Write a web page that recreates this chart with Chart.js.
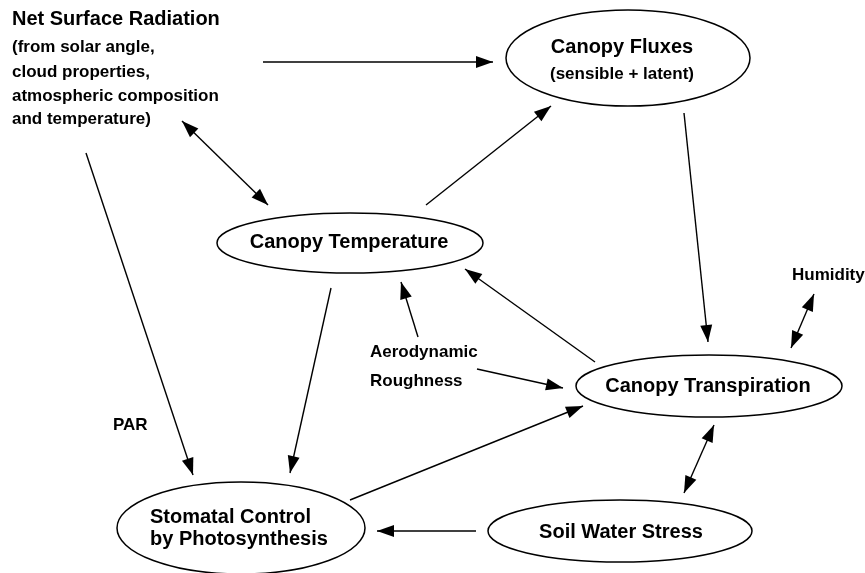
<!DOCTYPE html>
<html>
<head>
<meta charset="utf-8">
<script src="https://cdn.jsdelivr.net/npm/chart.js@4.4.0/dist/chart.umd.min.js"></script>
<style>
  html, body { margin: 0; padding: 0; background: #fff; }
  #wrap { width: 865px; height: 573px; }
</style>
</head>
<body>
<div id="wrap"><canvas id="diagrama"></canvas></div>
<script>
// nodes (ellipses) in diagram units: 0..865 across, 0..573 down
const nodeX  = [628, 350, 709, 241, 620];
const nodeY  = [58, 243, 386, 528, 531];
const nodeRX = [122, 133, 133, 124, 132];
const nodeRY = [48, 30, 31, 46, 31];

// text blocks
const labelText = [
    'Net Surface Radiation', '(from solar angle,', 'cloud properties,',
    'atmospheric composition', 'and temperature)',
    'Canopy Fluxes', '(sensible + latent)',
    'Canopy Temperature', 'Canopy Transpiration',
    'Stomatal Control', 'by Photosynthesis', 'Soil Water Stress',
    'Humidity', 'Aerodynamic', 'Roughness', 'PAR'
];
const labelX = [12, 12, 12, 12, 12, 622, 622, 349, 708, 150, 150, 621, 792, 370, 370, 113];
const labelY = [19, 47, 72, 96, 119, 47, 74, 242, 386, 517, 539, 532, 275, 352, 381, 425];
const labelSize = [20, 17, 17, 17, 17, 20, 17, 20, 20, 20, 20, 20, 17, 17, 17, 17];
const labelAlign = ['left', 'left', 'left', 'left', 'left', 'center', 'center', 'center',
    'center', 'left', 'left', 'center', 'left', 'left', 'left', 'left'];

// arrows: tail (x1,y1) -> head (x2,y2); double = head at both ends
const arrowX1 = [263, 182, 86, 426, 684, 814, 595, 418, 477, 331, 350, 714, 476];
const arrowY1 = [62, 121, 153, 205, 113, 294, 362, 337, 369, 288, 500, 425, 531];
const arrowX2 = [493, 268, 193, 551, 708, 791, 465, 401, 563, 290, 583, 684, 377];
const arrowY2 = [62, 205, 475, 106, 342, 348, 269, 282, 388, 473, 406, 493, 531];
const arrowDouble = [false, true, false, false, false, true, false, false, false, false, false, true, false];

const fonte = '"Liberation Sans", Arial, Helvetica, sans-serif';

const datasets = arrowX1.map((x, i) => ({
    type: 'line',
    data: [{ x: x, y: arrowY1[i] }, { x: arrowX2[i], y: arrowY2[i] }],
    borderColor: '#000',
    borderWidth: 1.4,
    pointRadius: 0,
    fill: false,
    tension: 0
}));

function ponta(ctx, fx, fy, tx, ty) {
    const ang = Math.atan2(ty - fy, tx - fx);
    const len = 17, half = 6;
    ctx.beginPath();
    ctx.moveTo(tx, ty);
    ctx.lineTo(tx - len * Math.cos(ang) + half * Math.sin(ang), ty - len * Math.sin(ang) - half * Math.cos(ang));
    ctx.lineTo(tx - len * Math.cos(ang) - half * Math.sin(ang), ty - len * Math.sin(ang) + half * Math.cos(ang));
    ctx.closePath();
    ctx.fill();
}

const desenho = {
    id: 'desenho',
    afterDatasetsDraw(chart) {
        const ctx = chart.ctx;
        const xs = chart.scales.x, ys = chart.scales.y;
        ctx.save();
        // ellipses
        ctx.strokeStyle = '#000';
        ctx.lineWidth = 1.5;
        nodeX.forEach((cx, i) => {
            const px = xs.getPixelForValue(cx), py = ys.getPixelForValue(nodeY[i]);
            const rx = Math.abs(xs.getPixelForValue(cx + nodeRX[i]) - px);
            const ry = Math.abs(ys.getPixelForValue(nodeY[i] + nodeRY[i]) - py);
            ctx.beginPath();
            ctx.ellipse(px, py, rx, ry, 0, 0, Math.PI * 2);
            ctx.stroke();
        });
        // arrowheads
        ctx.fillStyle = '#000';
        chart.data.datasets.forEach((ds, i) => {
            const pts = chart.getDatasetMeta(i).data;
            ponta(ctx, pts[0].x, pts[0].y, pts[1].x, pts[1].y);
            if (arrowDouble[i]) ponta(ctx, pts[1].x, pts[1].y, pts[0].x, pts[0].y);
        });
        // texts
        ctx.textBaseline = 'middle';
        labelText.forEach((t, i) => {
            ctx.font = 'bold ' + labelSize[i] + 'px ' + fonte;
            ctx.textAlign = labelAlign[i];
            ctx.fillText(t, xs.getPixelForValue(labelX[i]), ys.getPixelForValue(labelY[i]));
        });
        ctx.restore();
    }
};

new Chart(document.getElementById('diagrama'), {
    type: 'scatter',
    data: { datasets: datasets },
    options: {
        responsive: true,
        maintainAspectRatio: false,
        animation: false,
        layout: { padding: 0 },
        plugins: { legend: { display: false }, tooltip: { enabled: false } },
        scales: {
            x: { type: 'linear', min: 0, max: 865, display: false },
            y: { type: 'linear', min: 0, max: 573, reverse: true, display: false }
        }
    },
    plugins: [desenho]
});
</script>
</body>
</html>
